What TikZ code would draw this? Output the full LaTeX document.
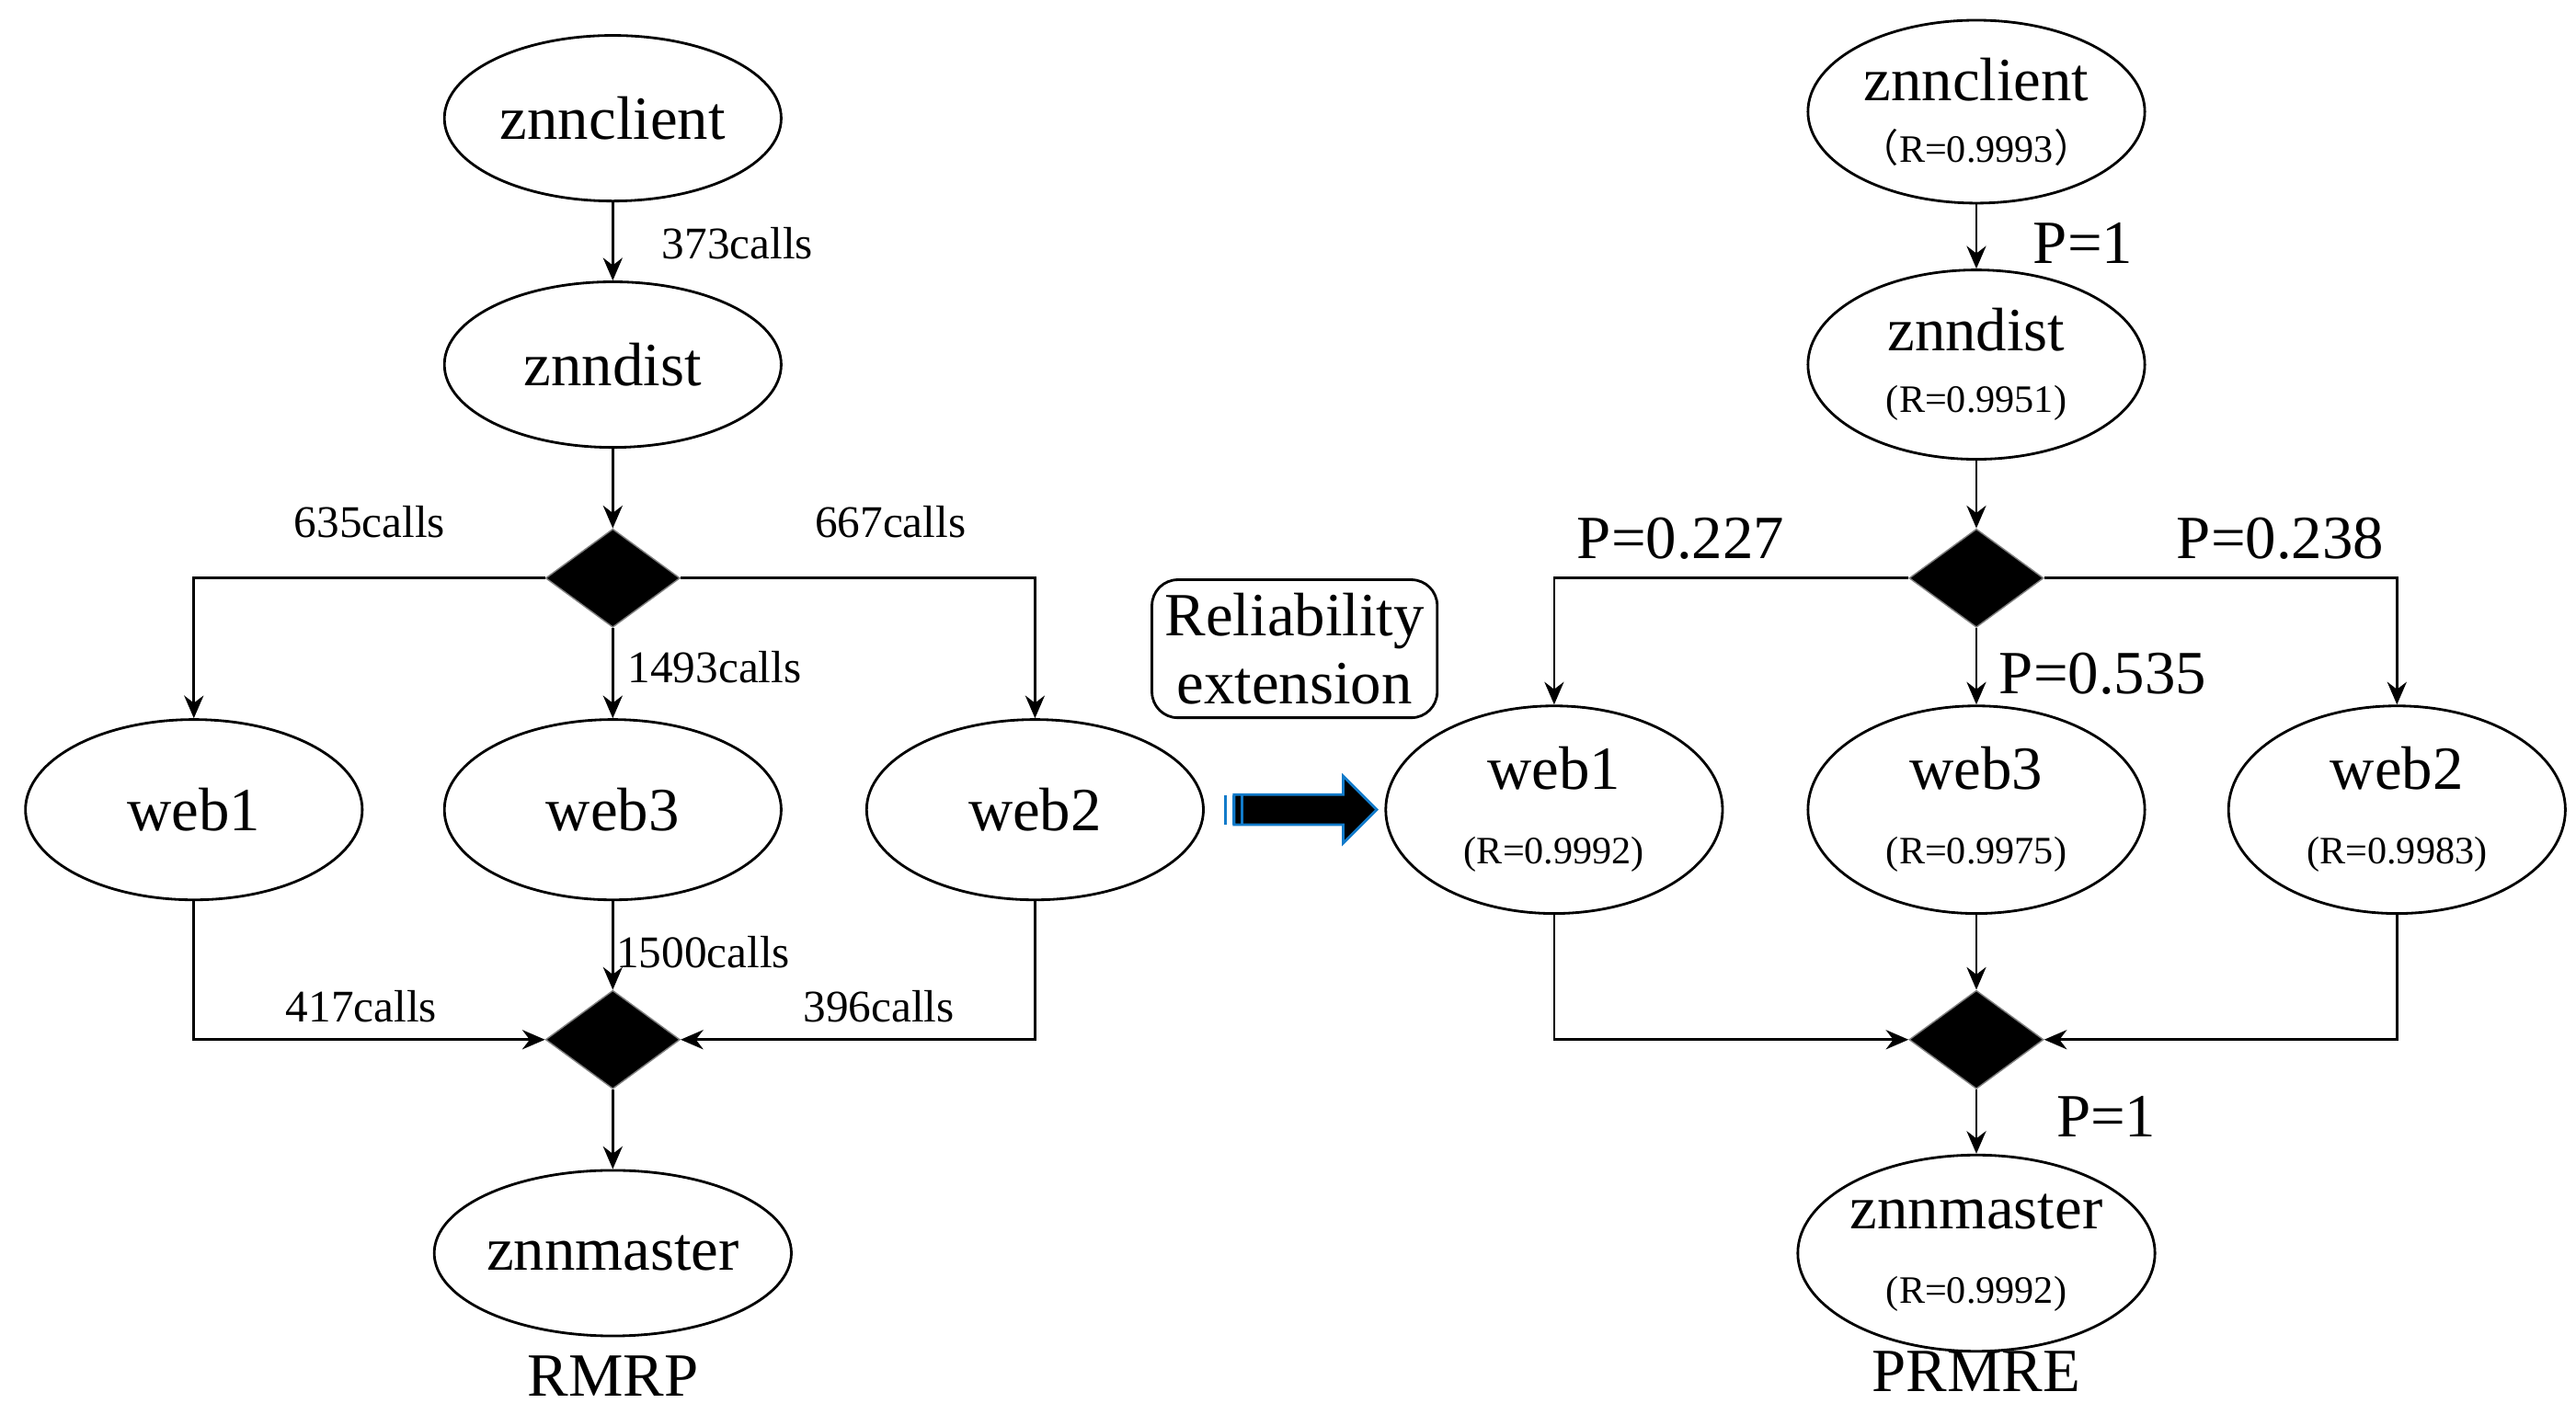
\documentclass[tikz,border=0pt]{standalone}
\usepackage{fontspec}
\setmainfont{Liberation Serif}
\newfontfamily\cjk{Noto Sans CJK SC}
\newcommand\rvf{\fontsize{12}{14}\selectfont}
\usetikzlibrary{shapes.geometric,shapes.arrows,arrows.meta}
\begin{document}
\begin{tikzpicture}[x=0.01786cm,y=-0.01786cm,
    svc/.style={ellipse,draw,thick,minimum width=3.66cm,minimum height=1.8cm,inner xsep=0pt,font=\fontsize{19}{21}\selectfont,align=center},
    web/.style={svc,minimum height=1.96cm},
    gate/.style={diamond,fill=black,draw=gray,minimum width=1.46cm,minimum height=1.07cm,inner sep=0pt},
    lab/.style={font=\fontsize{14}{16}\selectfont},
    plab/.style={font=\fontsize{19}{21}\selectfont},
    flow/.style={thick,-{Stealth[length=7pt,width=6pt]}},
    every text node part/.style={align=center}]
\useasboundingbox (0,0) rectangle (1568,868);

%RMRP
    %Knoten
    \node[svc] (lclient) at (373,72) {znnclient};
    \node[svc] (ldist) at (373,222) {znndist};
    \node[gate] (lsplit) at (373,352) {};
    \node[web] (lweb1) at (118,493) {web1};
    \node[web] (lweb3) at (373,493) {web3};
    \node[web] (lweb2) at (630,493) {web2};
    \node[gate] (ljoin) at (373,633) {};
    \node[svc] (lmaster) at (373,763) {znnmaster};
    \node[plab] (lname) at (373,838) {RMRP};

    %Kanten
    \draw[flow] (lclient) -- (ldist);
    \node[lab,anchor=west] at (396,148) {373calls};
    \draw[flow] (ldist) -- (lsplit);
    \draw[flow] (lsplit.west) -| (lweb1);
    \node[lab] at (225,318) {635calls};
    \draw[flow] (lsplit.east) -| (lweb2);
    \node[lab] at (542,318) {667calls};
    \draw[flow] (lsplit) -- (lweb3);
    \node[lab] at (435,406) {1493calls};
    \draw[flow] (lweb3) -- (ljoin);
    \node[lab] at (428,580) {1500calls};
    \draw[flow] (lweb1) |- (ljoin.west);
    \node[lab] at (220,613) {417calls};
    \draw[flow] (lweb2) |- (ljoin.east);
    \node[lab] at (535,613) {396calls};
    \draw[flow] (ljoin) -- (lmaster);

%Uebergang
    \node[draw,thick,rounded corners=8pt,minimum width=3.1cm,minimum height=1.5cm,
        plab] (ext) at (788,395) {Reliability\\extension};
    \node[single arrow,fill=black,draw=cyan!60!blue,thick,inner xsep=0pt,inner ysep=0.15cm,
        single arrow head extend=0.2cm,minimum height=1.55cm] (fat) at (790,493) {};
    \foreach \x in {746,751,756}{
        \draw[cyan!60!blue,thick] (\x,484) -- (\x,502);}

%PRMRE
    %Knoten
    \node[svc] (rclient) at (1203,68) {znnclient\\[-2pt]{\rvf{\cjk （}R=0.9993{\cjk ）}}};
    \node[svc] (rdist) at (1203,222) {znndist\\[-2pt]{\rvf (R=0.9951)}};
    \node[gate] (rsplit) at (1203,352) {};
    \node[web] (rweb1) at (946,493) {web1\\[2pt]{\rvf (R=0.9992)}};
    \node[web] (rweb3) at (1203,493) {web3\\[2pt]{\rvf (R=0.9975)}};
    \node[web] (rweb2) at (1459,493) {web2\\[2pt]{\rvf (R=0.9983)}};
    \node[gate] (rjoin) at (1203,633) {};
    \node[svc] (rmaster) at (1203,763) {znnmaster\\[2pt]{\rvf (R=0.9992)}};
    \node[plab] (rname) at (1203,835) {PRMRE};

    %Kanten
    \draw[flow] (rclient) -- (rdist);
    \node[plab] at (1268,148) {P=1};
    \draw[flow] (rdist) -- (rsplit);
    \draw[flow] (rsplit.west) -| (rweb1);
    \node[plab] at (1023,328) {P=0.227};
    \draw[flow] (rsplit.east) -| (rweb2);
    \node[plab] at (1388,328) {P=0.238};
    \draw[flow] (rsplit) -- (rweb3);
    \node[plab] at (1280,410) {P=0.535};
    \draw[flow] (rweb3) -- (rjoin);
    \draw[flow] (rweb1) |- (rjoin.west);
    \draw[flow] (rweb2) |- (rjoin.east);
    \draw[flow] (rjoin) -- (rmaster);
    \node[plab] at (1282,680) {P=1};

\end{tikzpicture}
\end{document}
